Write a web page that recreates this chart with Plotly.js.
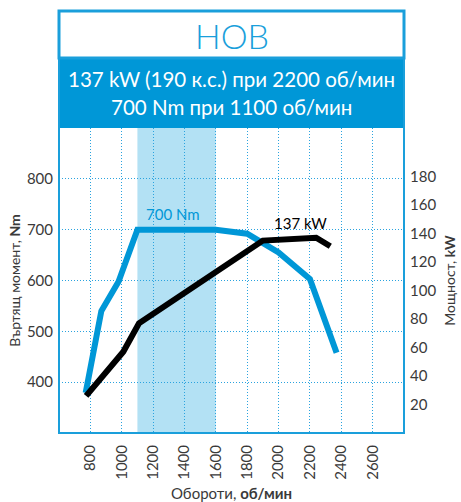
<!DOCTYPE html>
<html>
<head>
<meta charset="utf-8">
<script src="https://cdn.plot.ly/plotly-3.0.1.min.js"></script>
<style>html,body{margin:0;padding:0;background:#fff;}#chart{width:461px;height:502px;}</style>
</head>
<body>
<div id="chart"></div>
<script>
// Torque curve (Nm, left axis)
const torqueRpm = [770, 870, 980, 1100, 1600, 1800, 2000, 2200, 2370];
const torqueNm  = [379, 540, 598, 700, 700, 692, 655, 603, 458];
// Power curve (kW, right axis)
const powerRpm = [773, 1010, 1110, 1690, 1900, 2240, 2330];
const powerKw  = [26, 57, 77, 120, 135, 137, 131];
// Axis ticks
const rpmTicks = [800, 1000, 1200, 1400, 1600, 1800, 2000, 2200, 2400, 2600];
const rpmTickText = ['800', '1000', '1200', '1400', '1600', '1800', '2000', '2200', '2400', '2600'];
const nmTicks = [400, 500, 600, 700, 800];
const kwTicks = [20, 40, 60, 80, 100, 120, 140, 160, 180];
// Highlighted max-torque band
const bandRpm = [1100, 1600];
// Texts
const headTitle = 'НОВ';
const specLine1 = '137 kW (190 к.с.) при 2200 об/мин';
const specLine2 = '700 Nm при 1100 об/мин';

const BLUE = '#0097d7';
const GRID = '#2aa3df';
const FONT = 'Lato, "Open Sans", sans-serif';
const TXT = '#3a3a3a';

const traces = [
  {x: torqueRpm, y: torqueNm, type: 'scatter', mode: 'lines', yaxis: 'y',
   line: {color: BLUE, width: 6, shape: 'linear'}, hoverinfo: 'skip'},
  {x: powerRpm, y: powerKw, type: 'scatter', mode: 'lines', yaxis: 'y2',
   line: {color: '#000000', width: 6}, hoverinfo: 'skip'}
];

// paper coords: plot area 345 x 305 px
const topY = (433 - 11) / 305;
const bandY = (433 - 58) / 305;

const layout = {
  width: 461, height: 502,
  margin: {l: 59, r: 57, t: 128, b: 69},
  paper_bgcolor: '#ffffff', plot_bgcolor: 'rgba(0,0,0,0)',
  showlegend: false,
  font: {family: FONT, color: TXT, size: 15},
  xaxis: {
    range: [600, 2800], tickvals: rpmTicks, ticktext: rpmTickText, tickangle: -90,
    showgrid: true, gridcolor: GRID, griddash: '1px,2px', gridwidth: 1,
    zeroline: false, showline: false, ticks: '', ticklabelstandoff: 8,
    tickfont: {family: FONT, size: 15, color: TXT},
    title: {text: 'Обороти, <b>об/мин</b>', font: {family: FONT, size: 15, color: TXT}, standoff: 12}
  },
  yaxis: {
    range: [300, 900], tickvals: nmTicks,
    showgrid: true, gridcolor: GRID, griddash: '1px,2px', gridwidth: 1,
    zeroline: false, showline: false, ticks: '', ticklabelstandoff: 5,
    tickfont: {family: FONT, size: 15, color: TXT},
    title: {text: 'Въртящ момент, <b>Nm</b>', font: {family: FONT, size: 14, color: TXT}, standoff: 2}
  },
  yaxis2: {
    range: [0, 214], tickvals: kwTicks, overlaying: 'y', side: 'right',
    showgrid: false, zeroline: false, showline: false, ticks: '', ticklabelstandoff: 5,
    tickfont: {family: FONT, size: 15, color: TXT},
    title: {text: 'Мощност, <b>kW</b>', font: {family: FONT, size: 14, color: TXT}, standoff: 9}
  },
  shapes: [
    {type: 'rect', xref: 'x', yref: 'paper', x0: bandRpm[0], x1: bandRpm[1], y0: 0, y1: 1,
     fillcolor: '#b3e1f4', line: {width: 0}, layer: 'below'},
    {type: 'rect', xref: 'paper', yref: 'paper', x0: 0, x1: 1, y0: 1, y1: bandY,
     fillcolor: BLUE, line: {width: 0}, layer: 'above'},
    {type: 'rect', xref: 'paper', yref: 'paper', x0: 0, x1: 1, y0: bandY, y1: topY,
     fillcolor: '#ffffff', line: {color: '#1a9fdb', width: 3}, layer: 'above'},
    {type: 'rect', xref: 'paper', yref: 'paper', x0: 0, x1: 1, y0: 0, y1: topY,
     fillcolor: 'rgba(0,0,0,0)', line: {color: '#1a9fdb', width: 2}, layer: 'above'}
  ],
  annotations: [
    {xref: 'paper', yref: 'paper', x: 0.5, y: (433 - 35) / 305, text: headTitle, showarrow: false,
     font: {family: FONT, size: 34, color: '#1a9fdb', weight: 300}, xanchor: 'center', yanchor: 'middle'},
    {xref: 'paper', yref: 'paper', x: 0.5, y: (433 - 79) / 305, text: specLine1, showarrow: false,
     font: {family: FONT, size: 20.5, color: '#ffffff'}, xanchor: 'center', yanchor: 'middle'},
    {xref: 'paper', yref: 'paper', x: 0.5, y: (433 - 107) / 305, text: specLine2, showarrow: false,
     font: {family: FONT, size: 20.5, color: '#ffffff'}, xanchor: 'center', yanchor: 'middle'},
    {xref: 'x', yref: 'y', x: 1330, y: 731, text: '700 Nm', showarrow: false,
     font: {family: FONT, size: 15, color: BLUE}, xanchor: 'center', yanchor: 'middle'},
    {xref: 'x', yref: 'y2', x: 2140, y: 147, text: '137 kW', showarrow: false,
     font: {family: FONT, size: 15, color: '#000000'}, xanchor: 'center', yanchor: 'middle'}
  ]
};

Plotly.newPlot('chart', traces, layout, {displayModeBar: false, staticPlot: true});
</script>
</body>
</html>
